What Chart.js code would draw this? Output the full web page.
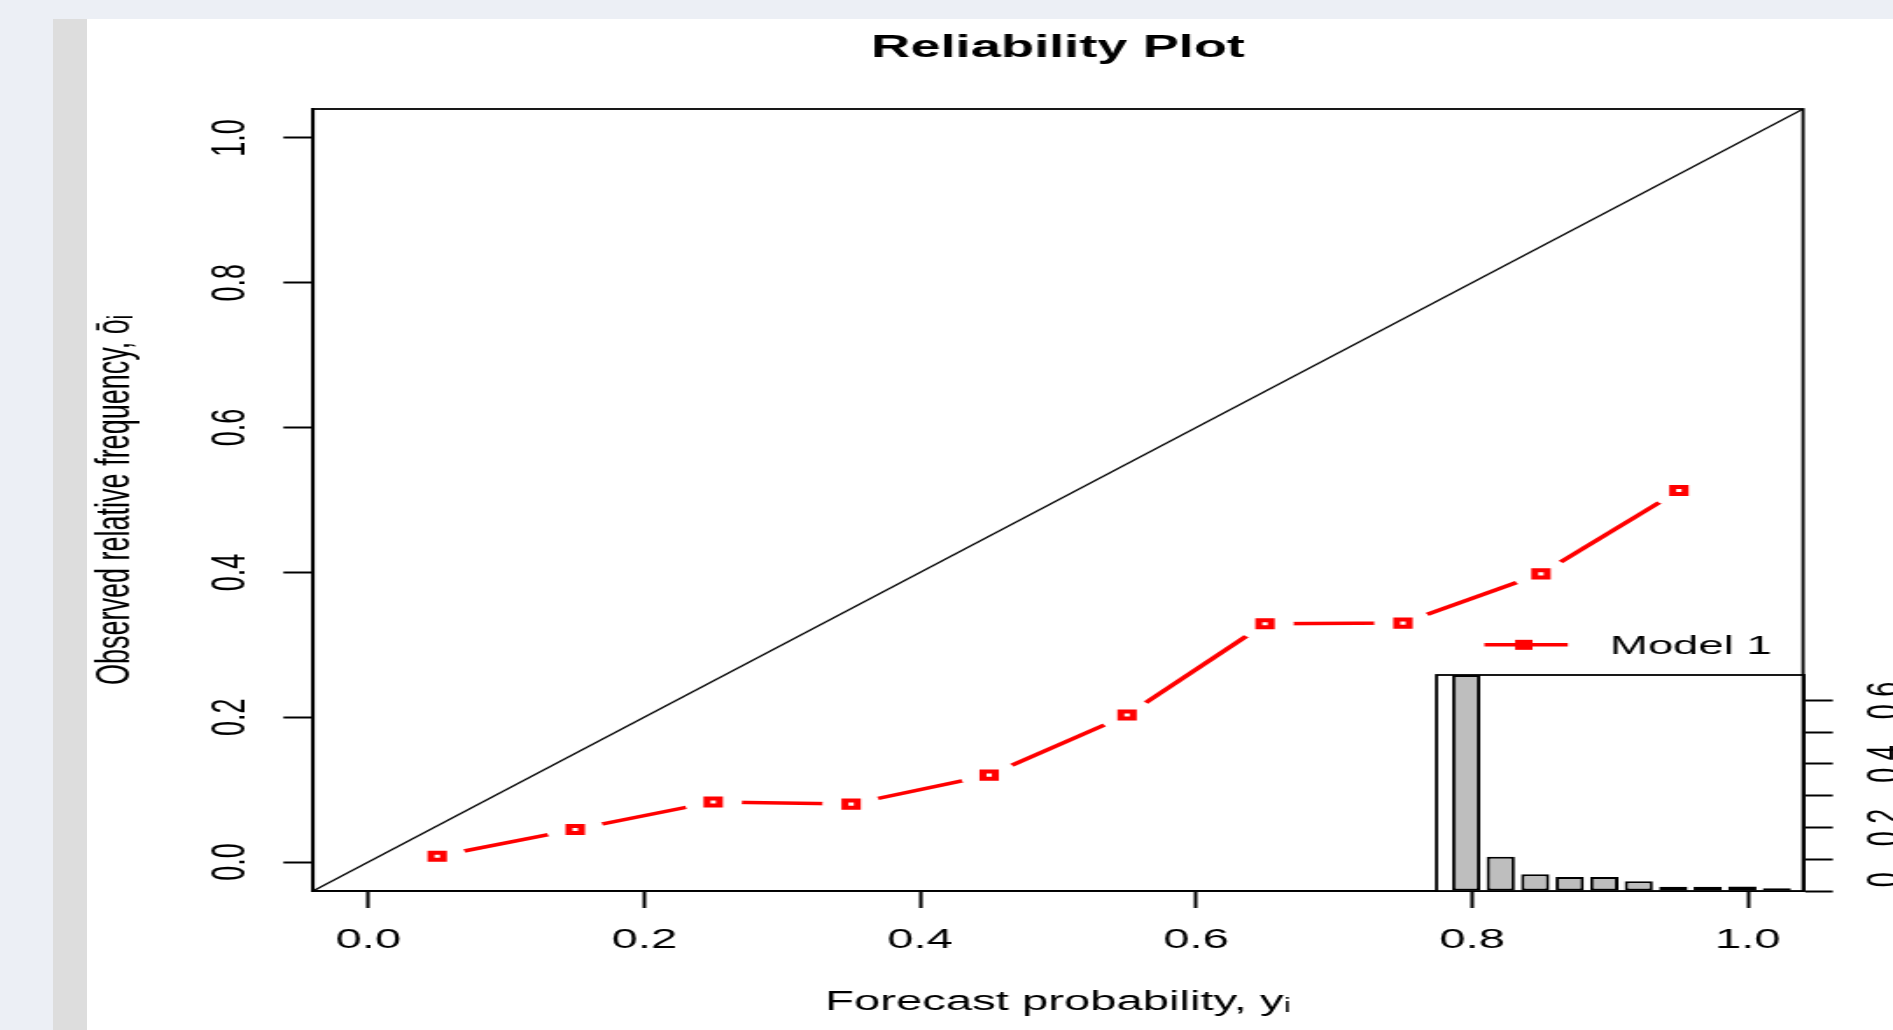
<!DOCTYPE html>
<html>
<head>
<meta charset="utf-8">
<title>Reliability Plot</title>
<script src="https://cdn.jsdelivr.net/npm/chart.js@4.4.0/dist/chart.umd.min.js"></script>
<style>
  html, body { margin: 0; padding: 0; }
  body { width: 1893px; height: 1030px; overflow: hidden; background: #eceff5; position: relative; }
  #strip { position: absolute; left: 53px; top: 19px; width: 34px; height: 1011px; background: #dddddd; }
  #panel { position: absolute; left: 87px; top: 19px; width: 1806px; height: 1011px; background: #fff; overflow: hidden; }
  canvas { position: absolute; }
</style>
</head>
<body>
<div id="strip"></div>
<div id="panel">
  <!-- the original picture is stretched sideways, so the canvases are too (inline size kept by Chart.js) -->
  <canvas id="main" width="1032" height="1011" style="left:0px;top:0px;width:1806px;height:1011px"></canvas>
  <canvas id="inset" width="263" height="220" style="left:1345.5px;top:654px;width:460.25px;height:220px"></canvas>
</div>
<script>
// bin centres of the forecast probability and observed frequency per bin
var forecastProb = [0.05, 0.15, 0.25, 0.35, 0.45, 0.55, 0.65, 0.75, 0.85, 0.95];
var observedFreq = [0.008, 0.045, 0.083, 0.080, 0.120, 0.203, 0.329, 0.330, 0.398, 0.513];
// share of all forecasts that fell in each bin (small histogram)
var forecastShare = [0.68, 0.108, 0.053, 0.044, 0.044, 0.031, 0.013, 0.013, 0.014, 0.009];

var axisRange = [-0.04, 1.04];
var xTicks = [0, 0.2, 0.4, 0.6, 0.8, 1.0];
var yTicks = [0, 0.2, 0.4, 0.6, 0.8, 1.0];
var shareTicks = [0, 0.1, 0.2, 0.3, 0.4, 0.5, 0.6];
var shareLabels = ['0.0', '', '0.2', '', '0.4', '', '0.6'];
var seriesName = 'Model 1';

Chart.defaults.font.family = '"Liberation Sans", Arial, Helvetica, sans-serif';
Chart.defaults.color = '#000';

var pts = forecastProb.map(function (x, i) { return { x: x, y: observedFreq[i] }; });
var fmt = function (v) { return Number(v).toFixed(1); };
var FONT = { size: 27 };

// box round the plot area (and white fill for the inset)
var framePlugin = {
  id: 'frame',
  beforeDraw: function (chart, args, opts) {
    if (!opts.fill) return;
    var a = chart.chartArea, c = chart.ctx;
    c.save();
    c.fillStyle = opts.fill;
    c.fillRect(a.left, a.top, a.right - a.left, a.bottom - a.top);
    c.restore();
  },
  afterDatasetsDraw: function (chart) {
    var a = chart.chartArea, c = chart.ctx;
    c.save();
    c.strokeStyle = '#000';
    c.lineWidth = 1.8;
    c.strokeRect(a.left, a.top, a.right - a.left, a.bottom - a.top);
    c.restore();
  }
};

// R style legend: line with a filled square, then the name
var legendPlugin = {
  id: 'rLegend',
  afterDatasetsDraw: function (chart) {
    var c = chart.ctx, sx = chart.scales.x, sy = chart.scales.y;
    var py = sy.getPixelForValue(0.3);
    var x0 = sx.getPixelForValue(0.809), x1 = sx.getPixelForValue(0.8695);
    var xm = sx.getPixelForValue(0.8376);
    c.save();
    c.strokeStyle = '#ff0000';
    c.lineWidth = 3.5;
    c.beginPath();
    c.moveTo(x0, py);
    c.lineTo(x1, py);
    c.stroke();
    c.fillStyle = '#ff0000';
    c.fillRect(xm - 5, py - 5, 10, 10);
    c.fillStyle = '#000';
    c.font = '26px "Liberation Sans", Arial, sans-serif';
    c.textAlign = 'left';
    c.textBaseline = 'middle';
    c.fillText(seriesName, sx.getPixelForValue(0.9), py + 2);
    c.restore();
  }
};

var tickGrid = { drawOnChartArea: false, tickLength: 17, tickWidth: 2, tickColor: '#000' };
var axisBorder = { color: '#000', width: 1.8 };

new Chart(document.getElementById('main'), {
  type: 'scatter',
  data: {
    datasets: [
      { label: seriesName, data: pts, showLine: false, pointStyle: 'rect', pointRadius: 5,
        pointBorderWidth: 4, pointBackgroundColor: '#fff', pointBorderColor: '#ff0000', order: 0 },
      // white discs leave the gaps round each point, like type = "b"
      { label: 'gaps', data: pts, showLine: false, pointStyle: 'circle', pointRadius: 16.5,
        pointBorderWidth: 0, pointBackgroundColor: '#fff', order: 1 },
      { label: 'line', data: pts, showLine: true, borderColor: '#ff0000', borderWidth: 3.5,
        pointRadius: 0, order: 2 },
      { label: 'perfect', data: axisRange.map(function (v) { return { x: v, y: v }; }),
        showLine: true, borderColor: '#000', borderWidth: 1.3, pointRadius: 0, order: 3 }
    ]
  },
  options: {
    responsive: false,
    devicePixelRatio: 1,
    animation: false,
    events: [],
    layout: { autoPadding: false, padding: { left: 0, right: 51.4, top: 0, bottom: 0 } },
    plugins: {
      legend: { display: false },
      tooltip: { enabled: false },
      frame: { fill: null },
      title: {
        display: true, text: 'Reliability Plot', fullSize: false, color: '#000',
        font: { size: 31, weight: 'bold' }, padding: { top: 11, bottom: 41.8 }
      }
    },
    scales: {
      x: {
        min: axisRange[0], max: axisRange[1],
        afterBuildTicks: function (s) { s.ticks = xTicks.map(function (v) { return { value: v }; }); },
        afterFit: function (s) { s.height = 139; s.paddingLeft = 0; s.paddingRight = 0; },
        border: axisBorder,
        grid: tickGrid,
        ticks: { font: FONT, padding: 16.8, maxRotation: 0, autoSkip: false, callback: fmt },
        title: { display: true, text: 'Forecast probability, yᵢ', font: FONT, padding: { top: 0, bottom: 11.5 } }
      },
      y: {
        min: axisRange[0], max: axisRange[1],
        afterBuildTicks: function (s) { s.ticks = yTicks.map(function (v) { return { value: v }; }); },
        afterFit: function (s) { s.width = 129.2; s.paddingTop = 0; s.paddingBottom = 0; },
        border: axisBorder,
        grid: tickGrid,
        ticks: { font: FONT, padding: 11.2, minRotation: 90, maxRotation: 90, crossAlign: 'center',
                 autoSkip: false, callback: fmt },
        title: { display: true, text: 'Observed relative frequency, ōᵢ', font: FONT, padding: { top: 0, bottom: 0 } }
      }
    }
  },
  plugins: [framePlugin, legendPlugin]
});

new Chart(document.getElementById('inset'), {
  type: 'bar',
  data: {
    datasets: [{
      data: forecastProb.map(function (x, i) { return { x: x, y: forecastShare[i] }; }),
      backgroundColor: '#bebebe', borderColor: '#000', borderWidth: 2, borderSkipped: false,
      barPercentage: 0.82, categoryPercentage: 1
    }]
  },
  options: {
    responsive: false,
    devicePixelRatio: 1,
    animation: false,
    events: [],
    layout: { autoPadding: false, padding: { left: 2, right: 0, top: 2, bottom: 2 } },
    plugins: {
      legend: { display: false },
      tooltip: { enabled: false },
      frame: { fill: '#fff' }
    },
    scales: {
      x: { type: 'linear', min: -0.036, max: 1.026, offset: false, display: false },
      y: {
        position: 'right', min: 0, max: 0.68,
        afterBuildTicks: function (s) { s.ticks = shareTicks.map(function (v) { return { value: v }; }); },
        afterFit: function (s) { s.width = 51.4; s.paddingTop = 0; s.paddingBottom = 0; },
        border: axisBorder,
        grid: tickGrid,
        ticks: { font: FONT, padding: 12.3, minRotation: 90, maxRotation: 90, crossAlign: 'center',
                 autoSkip: false, callback: function (v, i) { return shareLabels[i]; } }
      }
    }
  },
  plugins: [framePlugin]
});
</script>
</body>
</html>
